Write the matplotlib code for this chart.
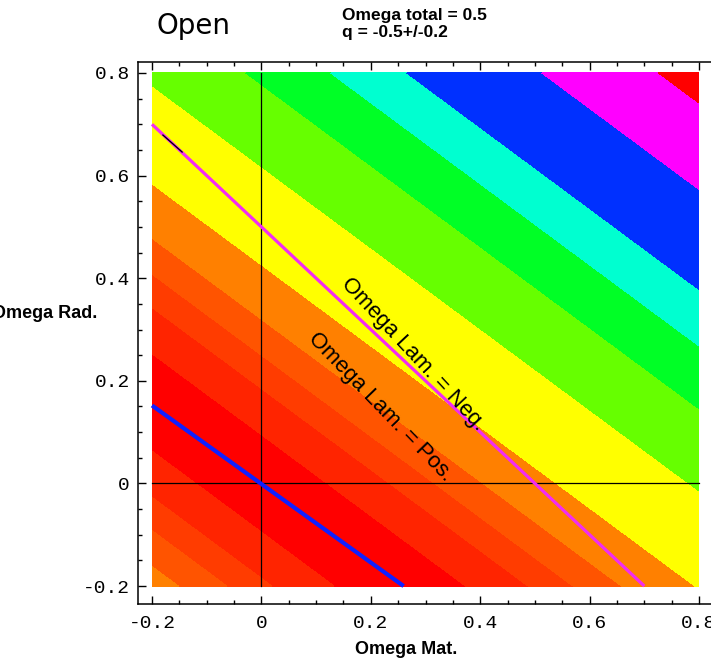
import numpy as np
import matplotlib
matplotlib.use("Agg")
import matplotlib.pyplot as plt
from matplotlib.ticker import FixedLocator, MultipleLocator, FixedFormatter

# ---- data ----
omega_mat_range = [-0.2, 0.8]
omega_rad_range = [-0.2, 0.8]
# gradient of the plotted field (q + 0.5) along Omega Mat. and Omega Rad.
field_weight_mat = 1.58
field_weight_rad = 2.0

# band edges in |q - q_center| and band colours
band_edges = [0.0, 0.19, 0.37, 0.50, 0.64, 0.852, 1.235, 1.555, 1.80, 2.02, 2.41, 2.747, 4.0]
band_colors = ["#ff0000", "#ff2400", "#ff3c00", "#ff5400", "#ff8000", "#ffff00",
               "#66ff00", "#00ff26", "#00ffd0", "#0030ff", "#ff00ff", "#ff0000"]

lam_zero_x = [-0.2, 0.7]
lam_zero_y = [0.7, -0.2]
q_line_x = [-0.2, 0.26]
q_line_y = [0.152, -0.2]
artifact_x = [-0.18, -0.145]
artifact_y = [0.679, 0.646]

xticks = [-0.2, 0.0, 0.2, 0.4, 0.6, 0.8]
xtick_labels = ["-0.2", "0", "0.2", "0.4", "0.6", "0.8"]
yticks = [-0.2, 0.0, 0.2, 0.4, 0.6, 0.8]
ytick_labels = ["-0.2", "0", "0.2", "0.4", "0.6", "0.8"]

# ---- figure ----
W, H = 711, 662
fig = plt.figure(figsize=(W / 100, H / 100), dpi=100)
ax = fig.add_axes([138 / W, (H - 603.5) / H, (713 - 138) / W, 542 / H])

om = np.linspace(omega_mat_range[0], omega_mat_range[1], 500)
orad = np.linspace(omega_rad_range[0], omega_rad_range[1], 500)
OM, OR = np.meshgrid(om, orad)
dist = np.abs(field_weight_mat * OM + field_weight_rad * OR)

ax.contourf(OM, OR, dist, levels=band_edges, colors=band_colors, antialiased=False)

ax.plot([0, 0], omega_rad_range, color="black", lw=0.9, zorder=3)
ax.plot(omega_mat_range, [0, 0], color="black", lw=0.9, zorder=3)
ax.plot(lam_zero_x, lam_zero_y, color="#f22cf2", lw=2.3, zorder=4, solid_capstyle="butt")
ax.plot(q_line_x, q_line_y, color="#1020ff", lw=3.0, zorder=4, solid_capstyle="butt")
ax.plot(artifact_x, artifact_y, color="black", lw=1.0, zorder=5)

lab_font = "Liberation Sans"
ax.text(0.277, 0.252, "Omega Lam. = Neg.", rotation=-47, rotation_mode="anchor",
        ha="center", va="center", fontsize=16, family=lab_font, zorder=6)
ax.text(0.217, 0.149, "Omega Lam. = Pos.", rotation=-46, rotation_mode="anchor",
        ha="center", va="center", fontsize=16, family=lab_font, zorder=6)

ax.set_xlim(-0.2256, 0.8256)
ax.set_ylim(-0.234, 0.8224)

ax.xaxis.set_major_locator(FixedLocator(xticks))
ax.xaxis.set_major_formatter(FixedFormatter(xtick_labels))
ax.yaxis.set_major_locator(FixedLocator(yticks))
ax.yaxis.set_major_formatter(FixedFormatter(ytick_labels))
ax.xaxis.set_minor_locator(MultipleLocator(0.05))
ax.yaxis.set_minor_locator(MultipleLocator(0.05))

ax.tick_params(which="both", direction="in", top=True, right=False, width=1.0, color="black")
ax.tick_params(which="major", length=6)
ax.tick_params(which="minor", length=3)
ax.tick_params(axis="x", which="major", pad=8)
ax.tick_params(axis="y", which="major", pad=6)
for lab in ax.get_xticklabels() + ax.get_yticklabels():
    lab.set_family("Liberation Mono")
    lab.set_fontsize(14)
for s in ax.spines.values():
    s.set_linewidth(1.1)

fig.text(406 / W, 1 - 649 / H, "Omega Mat.", ha="center", va="center",
         fontsize=13, fontweight="bold", family="Liberation Sans")
fig.text(97 / W, 1 - 314 / H, "Omega Rad.", ha="right", va="center",
         fontsize=13, fontweight="bold", family="Liberation Sans")

fig.text(156 / W, 1 - 33.5 / H, "Open", ha="left", va="baseline",
         fontsize=20, family="DejaVu Sans")
fig.text(342 / W, 1 - 20 / H, "Omega total = 0.5", ha="left", va="baseline",
         fontsize=12.5, fontweight="bold", family="Liberation Sans")
fig.text(342 / W, 1 - 37 / H, "q = -0.5+/-0.2", ha="left", va="baseline",
         fontsize=12.5, fontweight="bold", family="Liberation Sans")

fig.savefig("out.png", dpi=100)
